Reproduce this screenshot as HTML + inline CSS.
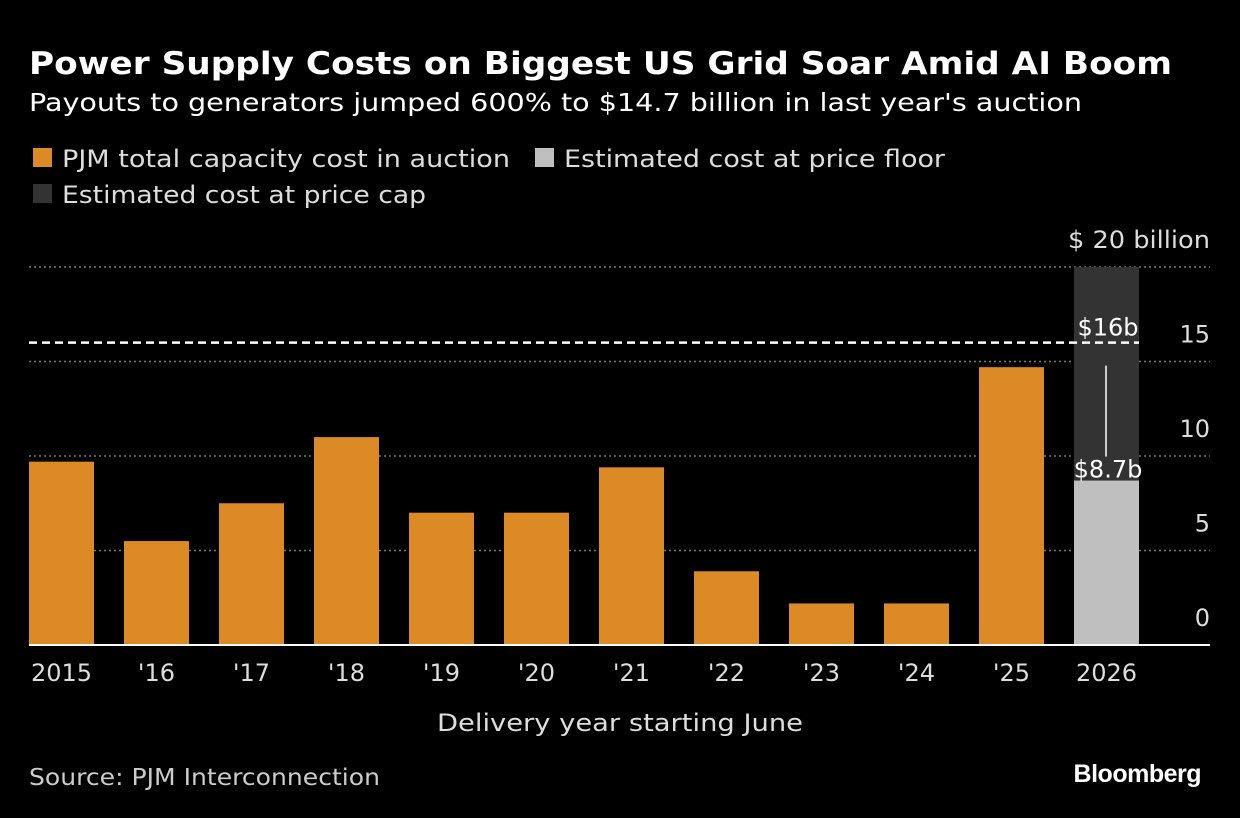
<!DOCTYPE html>
<html><head><meta charset="utf-8">
<style>
body{margin:0;background:#000;width:1240px;height:818px;overflow:hidden;font-family:"DejaVu Sans","Liberation Sans",sans-serif;color:#fff}
svg{position:absolute;left:0;top:0}
</style></head>
<body>
<svg width="1240" height="818" font-family="DejaVu Sans, Liberation Sans, sans-serif">
<text x="29" y="74" font-size="31" font-weight="bold" fill="#fff" textLength="1143" lengthAdjust="spacingAndGlyphs">Power Supply Costs on Biggest US Grid Soar Amid AI Boom</text>
<text x="29" y="111" font-size="25" fill="#fff" textLength="1053" lengthAdjust="spacingAndGlyphs">Payouts to generators jumped 600% to $14.7 billion in last year's auction</text>
<g>
<rect x="33" y="148" width="19" height="19" fill="#db8a25"/>
<text x="62" y="167" font-size="24" fill="#ddd" textLength="448" lengthAdjust="spacingAndGlyphs">PJM total capacity cost in auction</text>
<rect x="535" y="148" width="19" height="19" fill="#bfbfbf"/>
<text x="564" y="167" font-size="24" fill="#ddd" textLength="381" lengthAdjust="spacingAndGlyphs">Estimated cost at price floor</text>
<rect x="33" y="184" width="19" height="19" fill="#333"/>
<text x="62" y="203" font-size="24" fill="#ddd" textLength="364" lengthAdjust="spacingAndGlyphs">Estimated cost at price cap</text>
</g>
<g id="plot"></g>
<text x="437" y="731" font-size="24" fill="#ddd" textLength="366" lengthAdjust="spacingAndGlyphs">Delivery year starting June</text>
<text x="29" y="785" font-size="23" fill="#ccc" textLength="351" lengthAdjust="spacingAndGlyphs">Source: PJM Interconnection</text>
<text x="1201" y="782" font-size="25" font-weight="bold" fill="#fff" text-anchor="end" font-family="Liberation Sans, sans-serif" letter-spacing="-0.5">Bloomberg</text>
</svg>
<script>
const categories=["2015","'16","'17","'18","'19","'20","'21","'22","'23","'24","'25","2026"];
const totalCost=[9.7,5.5,7.5,11.0,7.0,7.0,9.4,3.9,2.2,2.2,14.7,null];
const floorCost=[null,null,null,null,null,null,null,null,null,null,null,8.7];
const capCost=[null,null,null,null,null,null,null,null,null,null,null,20];
const yTicks=[0,5,10,15,20];
const yTickLabels=["0","5","10","15","$ 20 billion"];
const refValue=16;
const refLabel="$16b";
const floorLabel="$8.7b";

const NS="http://www.w3.org/2000/svg";
const g=document.getElementById('plot');
const y0=645,pxPer=18.9,xL=29,xR=1210,step=95,bw=65;
const y=v=>y0-v*pxPer;
const x=i=>xL+i*step;
function mk(t,a){const e=document.createElementNS(NS,t);for(const k in a)e.setAttribute(k,a[k]);g.appendChild(e);return e;}

yTicks.forEach((t,i)=>{
  if(t>0){const l=mk('line',{x1:xL,x2:xR,y1:y(t),y2:y(t),stroke:'#777','stroke-width':1.5,'stroke-dasharray':'2,3'});
  
  }
  const a={x:xR,y:y(t)-19,'font-size':24,fill:'#ddd','text-anchor':'end'};
  if(t==20){a.textLength=142;a.lengthAdjust='spacingAndGlyphs';}
  const tx=mk('text',a);
  tx.textContent=yTickLabels[i];
  
  
});
capCost.forEach((v,i)=>{if(v==null)return;
  const r=mk('rect',{x:x(i),y:y(v),width:bw,height:y0-y(v),fill:'#333'});
  
  });
floorCost.forEach((v,i)=>{if(v==null)return;
  const r=mk('rect',{x:x(i),y:y(v),width:bw,height:y0-y(v),fill:'#bfbfbf'});
  
  
  const ln=mk('line',{x1:x(i)+32,x2:x(i)+32,y1:y(refValue)+23,y2:y(v)-24,stroke:'#fff','stroke-width':1.5});
  
  
  const t=mk('text',{x:x(i)+34,y:y(v)-3,'font-size':24,fill:'#fff','text-anchor':'middle'});
  t.textContent=floorLabel;
  
  });
totalCost.forEach((v,i)=>{if(v==null)return;
  const r=mk('rect',{x:x(i),y:y(v),width:bw,height:y0-y(v),fill:'#db8a25'});
  
  });
const rl=mk('line',{x1:xL,x2:x(11)+bw,y1:y(refValue),y2:y(refValue),stroke:'#fff','stroke-width':2.5,'stroke-dasharray':'8,5'});


const rt=mk('text',{x:x(11)+34,y:y(refValue)-7,'font-size':24,fill:'#fff','text-anchor':'middle'});
rt.textContent=refLabel;


const base=mk('line',{x1:xL,x2:xR,y1:y0,y2:y0,stroke:'#fff','stroke-width':2});


categories.forEach((c,i)=>{
  const t=mk('text',{x:x(i)+bw/2,y:681,'font-size':24,fill:'#ddd','text-anchor':'middle'});
  t.textContent=c;
  
  
});
</script>
</body></html>
